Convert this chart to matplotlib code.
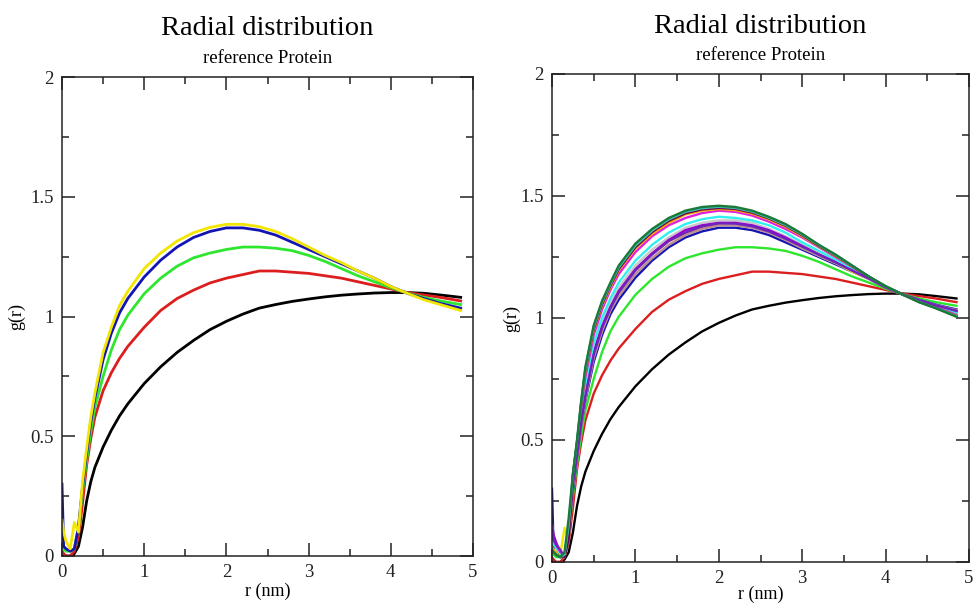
#!/usr/bin/env python3
"""
plot.py  -  two radial distribution panels (xmgrace look), g(r) vs r.
"""
import matplotlib
matplotlib.use("Agg")
import matplotlib.pyplot as plt
from matplotlib.ticker import MultipleLocator

# ---- data ------------------------------------------------------------------
r_nm = [0.0, 0.02, 0.05, 0.1, 0.15, 0.2, 0.25, 0.3, 0.35, 0.4, 0.5, 0.6, 0.7, 0.8,
        1.0, 1.2, 1.4, 1.6, 1.8, 2.0, 2.2, 2.4, 2.6, 2.8, 3.0, 3.2, 3.4, 3.6,
        3.8, 4.0, 4.2, 4.4, 4.6, 4.85]

g_black = [0.0, 0.0, 0.0, 0.0, 0.01, 0.04, 0.12, 0.23, 0.31, 0.37, 0.455, 0.525, 0.585, 0.635,
           0.72, 0.79, 0.85, 0.90, 0.945, 0.98, 1.01, 1.035, 1.05, 1.063, 1.073, 1.082, 1.089, 1.094,
           1.098, 1.10, 1.10, 1.097, 1.09, 1.08]
g_red = [0.02, 0.01, 0.0, 0.0, 0.02, 0.08, 0.22, 0.38, 0.49, 0.58, 0.69, 0.765, 0.825, 0.875,
         0.955, 1.025, 1.075, 1.11, 1.14, 1.16, 1.175, 1.19, 1.19, 1.185, 1.18, 1.17, 1.16, 1.145,
         1.13, 1.115, 1.10, 1.09, 1.08, 1.065]
g_green = [0.03, 0.03, 0.02, 0.02, 0.03, 0.12, 0.27, 0.40, 0.52, 0.62, 0.75, 0.86, 0.945, 1.005,
           1.095, 1.16, 1.21, 1.245, 1.265, 1.28, 1.29, 1.29, 1.285, 1.275, 1.255, 1.23, 1.20, 1.17,
           1.145, 1.12, 1.098, 1.08, 1.065, 1.05]
g_blue = [0.30, 0.04, 0.03, 0.02, 0.03, 0.12, 0.29, 0.43, 0.56, 0.66, 0.82, 0.93, 1.015, 1.075,
          1.165, 1.235, 1.29, 1.33, 1.355, 1.37, 1.37, 1.36, 1.34, 1.31, 1.28, 1.25, 1.22, 1.19,
          1.16, 1.125, 1.097, 1.075, 1.055, 1.035]
g_yellow = [0.15, 0.10, 0.06, 0.03, 0.14, 0.10, 0.31, 0.45, 0.58, 0.68, 0.85, 0.955, 1.045, 1.105,
            1.2, 1.265, 1.315, 1.35, 1.372, 1.385, 1.385, 1.375, 1.355, 1.325, 1.29, 1.255, 1.225, 1.19,
            1.16, 1.125, 1.097, 1.07, 1.05, 1.025]
g_brown = [0.10, 0.08, 0.06, 0.03, 0.02, 0.10, 0.315, 0.43, 0.56, 0.665, 0.835, 0.945, 1.03, 1.09,
           1.18, 1.245, 1.30, 1.34, 1.365, 1.38, 1.38, 1.37, 1.35, 1.32, 1.285, 1.255, 1.225, 1.193,
           1.161, 1.125, 1.097, 1.074, 1.053, 1.032]
g_grey = [0.05, 0.05, 0.04, 0.02, 0.02, 0.10, 0.33, 0.45, 0.59, 0.70, 0.87, 0.98, 1.06, 1.125,
          1.215, 1.28, 1.33, 1.37, 1.39, 1.40, 1.40, 1.39, 1.365, 1.335, 1.30, 1.268, 1.234, 1.199,
          1.164, 1.127, 1.097, 1.071, 1.05, 1.025]
g_violet = [0.15, 0.11, 0.08, 0.04, 0.03, 0.12, 0.32, 0.44, 0.58, 0.69, 0.86, 0.965, 1.045, 1.11,
            1.2, 1.265, 1.32, 1.36, 1.38, 1.39, 1.39, 1.38, 1.36, 1.33, 1.295, 1.26, 1.23, 1.195,
            1.163, 1.126, 1.097, 1.073, 1.051, 1.028]
g_cyan = [0.08, 0.07, 0.06, 0.03, 0.02, 0.14, 0.335, 0.46, 0.605, 0.725, 0.895, 1.00, 1.08, 1.145,
          1.235, 1.3, 1.35, 1.385, 1.405, 1.415, 1.41, 1.40, 1.38, 1.35, 1.31, 1.275, 1.24, 1.20,
          1.165, 1.13, 1.097, 1.07, 1.05, 1.02]
g_magenta = [0.10, 0.09, 0.07, 0.04, 0.03, 0.12, 0.35, 0.48, 0.63, 0.76, 0.93, 1.035, 1.115, 1.18,
             1.27, 1.335, 1.38, 1.41, 1.43, 1.44, 1.435, 1.42, 1.395, 1.365, 1.33, 1.29, 1.25, 1.21,
             1.168, 1.129, 1.097, 1.068, 1.044, 1.013]
g_orange = [0.06, 0.05, 0.04, 0.02, 0.02, 0.10, 0.355, 0.49, 0.645, 0.78, 0.95, 1.05, 1.125, 1.195,
            1.285, 1.345, 1.39, 1.425, 1.44, 1.447, 1.442, 1.428, 1.404, 1.374, 1.335, 1.293, 1.254, 1.211,
            1.169, 1.129, 1.097, 1.066, 1.042, 1.01]
g_indigo = [0.12, 0.09, 0.07, 0.05, 0.02, 0.10, 0.32, 0.44, 0.57, 0.68, 0.85, 0.96, 1.04, 1.105,
            1.195, 1.26, 1.315, 1.35, 1.375, 1.388, 1.387, 1.376, 1.355, 1.325, 1.293, 1.26, 1.228, 1.195,
            1.162, 1.126, 1.097, 1.073, 1.052, 1.029]
g_maroon = [0.04, 0.04, 0.03, 0.02, 0.02, 0.10, 0.355, 0.49, 0.65, 0.785, 0.955, 1.056, 1.132, 1.2,
            1.29, 1.352, 1.398, 1.429, 1.445, 1.451, 1.447, 1.432, 1.408, 1.378, 1.339, 1.295, 1.256, 1.212,
            1.169, 1.13, 1.097, 1.066, 1.042, 1.008]
g_turquoise = [0.05, 0.04, 0.03, 0.02, 0.03, 0.15, 0.358, 0.495, 0.655, 0.792, 0.962, 1.063, 1.138, 1.207,
               1.297, 1.358, 1.404, 1.435, 1.45, 1.456, 1.451, 1.436, 1.411, 1.381, 1.342, 1.298, 1.258, 1.214,
               1.17, 1.13, 1.097, 1.066, 1.041, 1.007]
g_green4 = [0.05, 0.04, 0.03, 0.02, 0.04, 0.18, 0.36, 0.50, 0.66, 0.80, 0.97, 1.07, 1.145, 1.215,
            1.305, 1.365, 1.41, 1.44, 1.455, 1.46, 1.455, 1.44, 1.415, 1.385, 1.345, 1.30, 1.26, 1.215,
            1.17, 1.13, 1.097, 1.065, 1.04, 1.005]

x_ticks = [0, 1, 2, 3, 4, 5]
y_ticks = [0, 0.5, 1, 1.5, 2]
y_tick_labels = ["0", "0.5", "1", "1.5", "2"]

title = "Radial distribution"
subtitle = "reference Protein"

# xmgrace default palette, in set order
left_sets = [(g_black, "#000000"), (g_red, "#dc1e1e"), (g_green, "#2ee62e"),
             (g_blue, "#1414b4"), (g_yellow, "#f2e600")]
right_sets = left_sets + [(g_brown, "#bc8f8f"), (g_grey, "#c8c8c8"),
                          (g_violet, "#9400d3"), (g_cyan, "#30f0f0"),
                          (g_magenta, "#e020e0"), (g_orange, "#ffa500"),
                          (g_indigo, "#7221bc"), (g_maroon, "#670748"),
                          (g_turquoise, "#40c0b0"), (g_green4, "#1a7a3a")]

plt.rcParams["font.family"] = ["Liberation Serif", "DejaVu Serif"]

W, H = 973, 605
fig = plt.figure(figsize=(W / 100, H / 100), dpi=100)


def px_axes(x0, y0, x1, y1):
    # pixel box -> axes in figure fractions
    return fig.add_axes([x0 / W, 1 - y1 / H, (x1 - x0) / W, (y1 - y0) / H])


def panel(ax, sets, lw, box, xlab_off, ylab_off, title_base, sub_base):
    for g, c in sets:
        ax.plot(r_nm, g, color=c, lw=lw, solid_joinstyle="round")
    ax.set_xlim(0, 5)
    ax.set_ylim(0, 2)
    ax.set_xticks(x_ticks)
    ax.set_xticklabels([str(t) for t in x_ticks])
    ax.set_yticks(y_ticks)
    ax.set_yticklabels(y_tick_labels)
    ax.xaxis.set_minor_locator(MultipleLocator(0.5))
    ax.yaxis.set_minor_locator(MultipleLocator(0.25))
    ax.tick_params(which="both", direction="in", top=True, right=True,
                   width=1.1, labelsize=13.5, colors="#222222")
    ax.tick_params(which="major", length=9.5, pad=6)
    ax.tick_params(which="minor", length=5)
    for s in ax.spines.values():
        s.set_linewidth(1.1)
        s.set_color("#222222")

    ax.set_xlabel("r (nm)", fontsize=13)
    ax.set_ylabel("g(r)", fontsize=13)
    ax.xaxis.set_label_coords(0.5, xlab_off)
    ax.yaxis.set_label_coords(ylab_off, 0.5)

    x0, y0, x1, y1 = box
    cx = (x0 + x1) / 2 / W
    fig.text(cx, 1 - title_base / H, title, ha="center", va="baseline", fontsize=20.5)
    fig.text(cx, 1 - sub_base / H, subtitle, ha="center", va="baseline", fontsize=13.5)


box_l = (62, 77, 473, 556)
box_r = (552, 74, 969, 562)
ax_l = px_axes(*box_l)
ax_r = px_axes(*box_r)

panel(ax_l, left_sets, 2.0, box_l, -0.056, -0.09, 35, 63)
panel(ax_r, right_sets, 1.7, box_r, -0.049, -0.077, 33, 60)

fig.savefig("out.png", dpi=100)
